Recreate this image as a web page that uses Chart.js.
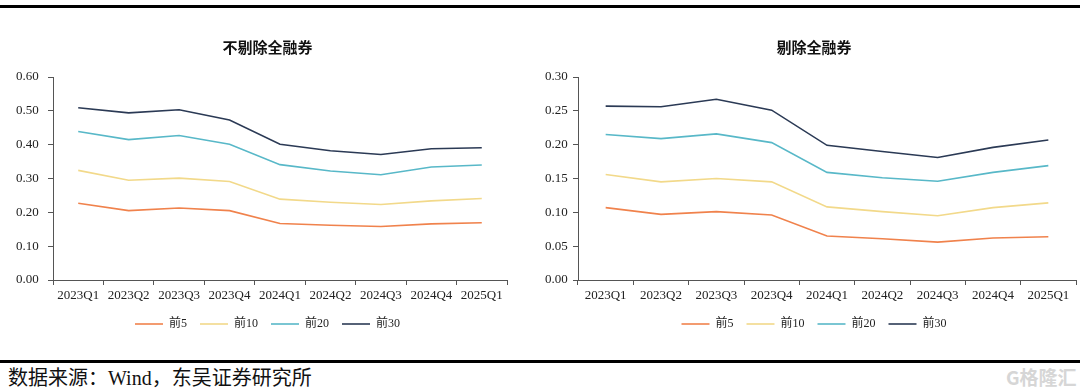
<!DOCTYPE html>
<html><head><meta charset="utf-8">
<script src="https://cdn.jsdelivr.net/npm/chart.js@4.4.1/dist/chart.umd.min.js"></script>
<style>
html,body{margin:0;padding:0;background:#fff;width:1080px;height:391px;overflow:hidden;position:relative;}
.rule{position:absolute;left:0;width:1080px;height:3px;background:#000;}
#c1,#c2{position:absolute;}
#src{position:absolute;left:8px;top:366px;font:20px/24px "Liberation Serif","Noto Sans CJK SC",serif;color:#111;white-space:nowrap;}
#wm{position:absolute;left:1006px;top:365px;font:bold 19px/24px "Noto Sans CJK SC",sans-serif;color:#d6d6d6;white-space:nowrap;}
</style></head><body>
<div class="rule" style="top:5px"></div>
<div class="rule" style="top:360px"></div>
<canvas id="c1"></canvas>
<canvas id="c2"></canvas>
<div id="src">数据来源：Wind，东吴证券研究所</div>
<div id="wm">G格隆汇</div>
<script>
const categories = ['2023Q1','2023Q2','2023Q3','2023Q4','2024Q1','2024Q2','2024Q3','2024Q4','2025Q1'];
const seriesNames = ['前5','前10','前20','前30'];
const titleLeft = '不剔除全融券';
const titleRight = '剔除全融券';
// 不剔除全融券
const left5  = [0.227,0.205,0.213,0.205,0.167,0.162,0.158,0.166,0.169];
const left10 = [0.324,0.295,0.301,0.291,0.239,0.230,0.223,0.234,0.241];
const left20 = [0.439,0.415,0.427,0.401,0.341,0.322,0.311,0.334,0.340];
const left30 = [0.509,0.494,0.503,0.473,0.401,0.382,0.371,0.388,0.391];
// 剔除全融券
const right5  = [0.107,0.097,0.101,0.096,0.065,0.061,0.056,0.062,0.064];
const right10 = [0.156,0.145,0.150,0.145,0.108,0.101,0.095,0.107,0.114];
const right20 = [0.215,0.209,0.216,0.203,0.159,0.151,0.146,0.159,0.169];
const right30 = [0.257,0.256,0.267,0.251,0.199,0.190,0.181,0.196,0.207];
const leftTicks = {min:0, max:0.6, step:0.1};
const rightTicks = {min:0, max:0.3, step:0.05};

const colors = ['#F0824C','#F2D98A','#58B8C8','#2B3A55'];
const serif = '"Liberation Serif","Noto Sans CJK SC",serif';

function build(id, pos, title, data, tk, yW, padL, padR, labelPad){
  const cv = document.getElementById(id);
  cv.style.left = pos.left+'px'; cv.style.top = pos.top+'px';
  cv.width = pos.width; cv.height = pos.height;
  cv.style.width = pos.width+'px'; cv.style.height = pos.height+'px';
  return new Chart(cv, {
    type:'line',
    data:{labels:categories, datasets: data.map((d,i)=>({
      label:seriesNames[i], data:d, borderColor:colors[i], backgroundColor:colors[i],
      borderWidth:1.6, pointRadius:0, tension:0, fill:false
    }))},
    options:{
      responsive:false, animation:false, devicePixelRatio:1,
      layout:{padding:{left:padL,right:padR,top:0,bottom:0}},
      plugins:{
        title:{display:true,text:title,color:'#111',font:{family:'"Noto Sans CJK SC",serif',size:15,weight:'bold'},padding:{top:8,bottom:21}},
        legend:{position:'bottom',labels:{usePointStyle:true,pointStyle:'line',pointStyleWidth:28,boxHeight:12,padding:13,color:'#222',font:{family:serif,size:12}}},
        tooltip:{enabled:false}
      },
      scales:{
        x:{offset:true,
           grid:{display:true,drawOnChartArea:false,offset:true,tickLength:5,color:'#555'},
           border:{display:true,color:'#555',width:1},
           ticks:{color:'#222',font:{family:serif,size:13},padding:3,maxRotation:0,autoSkip:false},
           afterFit:s=>{s.height=25;}},
        y:{min:tk.min,max:tk.max,
           grid:{display:true,drawOnChartArea:false,tickLength:5,color:'#555'},
           border:{display:true,color:'#555',width:1},
           ticks:{stepSize:tk.step,color:'#222',font:{family:serif,size:13},mirror:true,padding:labelPad,
                  callback:v=>Number(v).toFixed(2)},
           afterFit:s=>{s.width=yW;}}
      }
    }
  });
}
build('c1',{left:0,top:30,width:540,height:310},titleLeft,[left5,left10,left20,left30],leftTicks,25,28,33,-37);
build('c2',{left:540,top:30,width:540,height:310},titleRight,[right5,right10,right20,right30],rightTicks,26,12,4,-33);
</script>
</body></html>
